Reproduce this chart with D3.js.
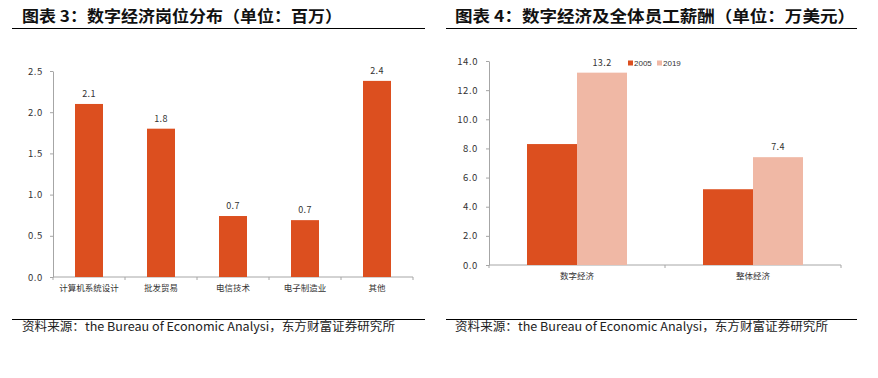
<!DOCTYPE html>
<html>
<head>
<meta charset="utf-8">
<script src="https://cdn.jsdelivr.net/npm/d3@7"></script>
<style>
    body { margin: 0; background: #ffffff; }
    svg { display: block; }
</style>
</head>
<body>
<svg id="SVG_CONTAINER" width="878" height="378"></svg>
<script>
// ** DATA *****************************************
const jobCategories = ["计算机系统设计", "批发贸易", "电信技术", "电子制造业", "其他"];
const jobValues = [2.10, 1.80, 0.74, 0.69, 2.38];
const jobTicks = [0, 0.5, 1.0, 1.5, 2.0, 2.5];

const payCategories = ["数字经济", "整体经济"];
const paySeries = ["2005", "2019"];
const pay2005 = [8.3, 5.2];
const pay2019 = [13.2, 7.4];
const payTicks = [0, 2, 4, 6, 8, 10, 12, 14];

const title3 = "图表 3：数字经济岗位分布（单位：百万）";
const title4 = "图表 4：数字经济及全体员工薪酬（单位：万美元）";
const sourceText = "资料来源：the Bureau of Economic Analysi，东方财富证券研究所";

const DARK = "#dc4f1f", LIGHT = "#f0b8a5";
const AXIS = "#a6a6a6";
const CJK = "'Noto Sans CJK SC', sans-serif";

let svg = d3.select("#SVG_CONTAINER");

// title + rules + source for one panel
function frame(x0, x1, textX, title, titleLen) {
    svg.append("text")
        .attr("x", textX).attr("y", 22)
        .attr("font-family", CJK).attr("font-weight", "bold")
        .attr("font-size", 16).attr("fill", "#111")
        .attr("textLength", titleLen).attr("lengthAdjust", "spacingAndGlyphs")
        .text(title);
    svg.append("line")
        .attr("x1", x0).attr("x2", x1).attr("y1", 28.5).attr("y2", 28.5)
        .attr("stroke", "#000").attr("stroke-width", 1);
    svg.append("line")
        .attr("x1", x0).attr("x2", x1).attr("y1", 319.5).attr("y2", 319.5)
        .attr("stroke", "#000").attr("stroke-width", 1);
    svg.append("text")
        .attr("x", textX).attr("y", 331)
        .attr("font-family", CJK).attr("font-size", 12).attr("fill", "#222")
        .attr("textLength", 373).attr("lengthAdjust", "spacingAndGlyphs")
        .text(sourceText);
}

function styleAxis(g) {
    g.selectAll("path, line").attr("stroke", AXIS);
    g.selectAll("text").attr("fill", "#333").attr("font-family", CJK);
}

//** LEFT CHART *****************************************
frame(12, 425, 22, title3, 320);

let left = svg.append("g").attr("class", "jobs");

let xJobs = d3.scaleBand()
    .domain(jobCategories)
    .range([53, 413])
    .paddingInner(0.6)
    .paddingOuter(0.3);

let yJobs = d3.scaleLinear()
    .domain([0, 2.5])
    .range([277, 71]);

left.append("g")
    .attr("transform", "translate(53,0)")
    .call(d3.axisLeft(yJobs).tickValues(jobTicks).tickFormat(d3.format(".1f")).tickSize(3).tickSizeOuter(0).tickPadding(7))
    .call(styleAxis)
    .selectAll("text").attr("font-size", 9.5).attr("letter-spacing", 0.6);

// x axis with ticks on band boundaries
let xAxisL = left.append("g").attr("transform", "translate(0,277)");
xAxisL.append("line").attr("x1", 53).attr("x2", 413).attr("stroke", AXIS);
let stepL = (413 - 53) / jobCategories.length;
d3.range(jobCategories.length + 1).forEach(i => {
    xAxisL.append("line")
        .attr("x1", 53 + i * stepL).attr("x2", 53 + i * stepL)
        .attr("y1", 0).attr("y2", 3).attr("stroke", AXIS);
});
xAxisL.selectAll(".cat").data(jobCategories).enter().append("text")
    .attr("class", "cat")
    .attr("x", (d, i) => 53 + (i + 0.5) * stepL)
    .attr("y", 14)
    .attr("text-anchor", "middle")
    .attr("font-family", CJK).attr("font-size", 8.5).attr("fill", "#333")
    .text(d => d);

xJobs.range([53, 413]);
left.selectAll(".bar").data(jobValues).enter().append("rect")
    .attr("class", "bar")
    .attr("x", (d, i) => 53 + (i + 0.5) * stepL - 14)
    .attr("width", 28)
    .attr("y", d => yJobs(d))
    .attr("height", d => 277 - yJobs(d))
    .attr("fill", DARK);

left.selectAll(".val").data(jobValues).enter().append("text")
    .attr("class", "val")
    .attr("x", (d, i) => 53 + (i + 0.5) * stepL)
    .attr("y", d => yJobs(d) - 7)
    .attr("text-anchor", "middle")
    .attr("font-family", CJK).attr("font-size", 9).attr("fill", "#333")
    .attr("letter-spacing", 0.4)
    .text(d => d3.format(".1f")(d));

//** RIGHT CHART *****************************************
frame(446, 857, 455, title4, 400);

let right = svg.append("g").attr("class", "pay");

let yPay = d3.scaleLinear()
    .domain([0, 14])
    .range([265, 61]);

right.append("g")
    .attr("transform", "translate(489,0)")
    .call(d3.axisLeft(yPay).tickValues(payTicks).tickFormat(d3.format(".1f")).tickSize(3).tickSizeOuter(0).tickPadding(8))
    .call(styleAxis)
    .selectAll("text").attr("font-size", 9.5).attr("letter-spacing", 0.6);

let xPay = d3.scaleBand()
    .domain(payCategories)
    .range([489, 841]);

let xSub = d3.scaleBand()
    .domain(paySeries)
    .range([0, 100]);

let xAxisR = right.append("g").attr("transform", "translate(0,265)");
xAxisR.append("line").attr("x1", 489).attr("x2", 841).attr("stroke", AXIS);
[489, 489 + xPay.bandwidth(), 841].forEach(x => {
    xAxisR.append("line").attr("x1", x).attr("x2", x).attr("y1", 0).attr("y2", 3).attr("stroke", AXIS);
});
xAxisR.selectAll(".cat").data(payCategories).enter().append("text")
    .attr("class", "cat")
    .attr("x", d => xPay(d) + xPay.bandwidth() / 2)
    .attr("y", 14)
    .attr("text-anchor", "middle")
    .attr("font-family", CJK).attr("font-size", 8.5).attr("fill", "#333")
    .text(d => d);

let groups = right.selectAll(".grp").data(payCategories).enter().append("g")
    .attr("class", "grp")
    .attr("transform", d => "translate(" + (xPay(d) + xPay.bandwidth() / 2 - 50) + ",0)");

groups.append("rect")
    .attr("x", xSub("2005"))
    .attr("width", xSub.bandwidth())
    .attr("y", (d, i) => yPay(pay2005[i]))
    .attr("height", (d, i) => 265 - yPay(pay2005[i]))
    .attr("fill", DARK);

groups.append("rect")
    .attr("x", xSub("2019"))
    .attr("width", xSub.bandwidth())
    .attr("y", (d, i) => yPay(pay2019[i]))
    .attr("height", (d, i) => 265 - yPay(pay2019[i]))
    .attr("fill", LIGHT);

groups.append("text")
    .attr("x", xSub("2019") + xSub.bandwidth() / 2)
    .attr("y", (d, i) => yPay(pay2019[i]) - 7)
    .attr("text-anchor", "middle")
    .attr("font-family", CJK).attr("font-size", 9).attr("fill", "#333")
    .attr("letter-spacing", 0.4)
    .text((d, i) => d3.format(".1f")(pay2019[i]));

//** LEGEND *****************************************
let legend = svg.append("g").attr("class", "legend");
let legendX = [628, 657];
paySeries.forEach((s, i) => {
    legend.append("rect")
        .attr("x", legendX[i]).attr("y", 60.5)
        .attr("width", 5).attr("height", 5)
        .attr("fill", i === 0 ? DARK : LIGHT);
    legend.append("text")
        .attr("x", legendX[i] + 6).attr("y", 66)
        .attr("font-family", "'Liberation Sans', Arial, sans-serif")
        .attr("font-size", 8).attr("fill", "#333")
        .text(s);
});
</script>
</body>
</html>
